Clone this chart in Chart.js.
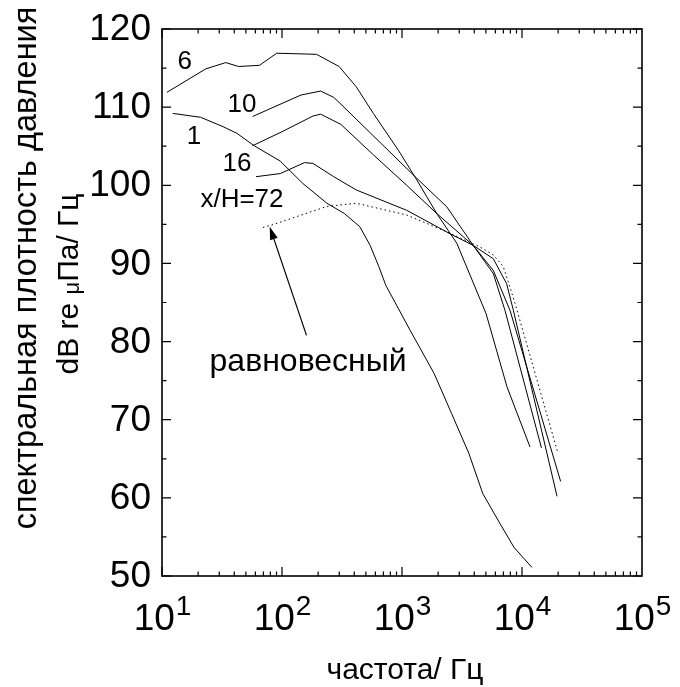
<!DOCTYPE html>
<html>
<head>
<meta charset="utf-8">
<script src="https://cdn.jsdelivr.net/npm/chart.js@4.4.1/dist/chart.umd.min.js"></script>
<style>
html, body { margin: 0; padding: 0; background: #fff; }
#wrap { width: 680px; height: 687px; }
</style>
</head>
<body>
<div id="wrap"><canvas id="grafico"></canvas></div>
<script>
// x/H = 1
const freq1 = [12.3, 21.0, 32.3, 42.1, 58.6, 96.6, 149, 237, 330, 445, 543, 641, 733, 1167, 1854, 2588, 3606, 4710, 6561, 8551, 10420, 12100];
const lev1 = [109.2, 108.7, 107.5, 106.65, 105.06, 103.1, 100.24, 97.7, 96.4, 94.7, 92.3, 89.6, 87.2, 81.46, 75.9, 70.8, 65.7, 60.55, 56.7, 53.7, 52.2, 51.1];
// x/H = 6
const freq6 = [11.0, 23.2, 34.0, 43.5, 64.9, 90.4, 194, 299, 416, 577, 931, 1327, 1945, 2858, 5012, 7499, 11670];
const lev6 = [111.9, 114.9, 115.7, 115.2, 115.35, 116.9, 116.76, 115.2, 112.6, 109.2, 104.5, 100.7, 96.4, 92.6, 83.6, 74.2, 66.5];
// x/H = 10
const freq10 = [56.8, 144, 210, 270, 304, 1327, 2360, 3926, 5768, 7211, 14520];
const lev10 = [108.8, 111.55, 112.06, 111.25, 110.5, 100.9, 97.25, 92.3, 88.7, 84.0, 66.4];
// x/H = 16
const freq16 = [56.8, 99.8, 181, 210, 309, 577, 1094, 1945, 3926, 5768, 7943, 20990];
const lev16 = [105.06, 106.85, 108.86, 109.1, 107.8, 103.9, 100.0, 96.4, 92.3, 89.1, 84.0, 62.1];
// x/H = 72
const freq72 = [60.7, 96.6, 154, 181, 270, 416, 1094, 2512, 3926, 5768, 7447, 8472, 19590];
const lev72 = [101.1, 101.5, 102.9, 102.8, 101.1, 99.4, 96.8, 93.8, 92.3, 90.6, 87.4, 84.0, 60.2];
// равновесный (пунктир)
const freqEq = [69.3, 81.7, 237, 416, 1094, 2360, 4467, 5768, 6982, 8750, 19950];
const levEq = [94.6, 94.9, 97.3, 97.7, 96.2, 94.05, 92.1, 91.1, 89.6, 84.9, 65.7];

const xTicks = [10, 100, 1000, 10000, 100000];
const xExp = ['1', '2', '3', '4', '5'];
const yTicks = [50, 60, 70, 80, 90, 100, 110, 120];

const curveLabels = ['6', '10', '1', '16', 'x/H=72'];
const curveLabelF = [15.5, 46.4, 18.5, 42.2, 46.4];
const curveLabelV = [115.8, 110.3, 106.2, 102.7, 98.2];

const eqLabel = 'равновесный';
const eqLabelF = 165, eqLabelV = 77.4;
const arrowFrom = [160, 80.8];
const arrowTo = [79, 94.7];

const FONT = '"Liberation Sans", Arial, sans-serif';

function pts(fs, vs) {
    return fs.map((f, i) => ({ x: f, y: vs[i] }));
}

function serie(fs, vs, dash) {
    return {
        data: pts(fs, vs),
        showLine: true,
        borderColor: '#000',
        borderWidth: 1,
        borderDash: dash || [],
        pointRadius: 0,
        tension: 0,
        fill: false
    };
}

function texto(ctx, s, x, y, size, align) {
    ctx.font = size + 'px ' + FONT;
    ctx.textAlign = align || 'center';
    ctx.fillText(s, x, y);
}

const moldura = {
    id: 'moldura',
    afterDraw(chart) {
        const ctx = chart.ctx;
        const a = chart.chartArea;
        const xs = chart.scales.x, ys = chart.scales.y;
        ctx.save();
        ctx.strokeStyle = '#000';
        ctx.fillStyle = '#000';
        ctx.lineWidth = 1.6;
        ctx.strokeRect(a.left, a.top, a.right - a.left, a.bottom - a.top);

        // x ticks (major + minor), inside on bottom and top
        ctx.lineWidth = 1.2;
        ctx.beginPath();
        for (let d = 10; d < 100000; d *= 10) {
            for (let m = 1; m < 10; m++) {
                const px = xs.getPixelForValue(d * m);
                const len = m === 1 ? 9 : 4.5;
                ctx.moveTo(px, a.bottom); ctx.lineTo(px, a.bottom - len);
                ctx.moveTo(px, a.top); ctx.lineTo(px, a.top + len);
            }
        }
        // y ticks
        for (let v = 50; v <= 120; v += 5) {
            const py = ys.getPixelForValue(v);
            const len = v % 10 === 0 ? 9 : 4.5;
            ctx.moveTo(a.left, py); ctx.lineTo(a.left + len, py);
            ctx.moveTo(a.right, py); ctx.lineTo(a.right - len, py);
        }
        ctx.stroke();

        // y tick labels
        ctx.textBaseline = 'middle';
        yTicks.forEach(v => {
            texto(ctx, String(v), a.left - 11, ys.getPixelForValue(v) + 1, 37, 'right');
        });

        // x tick labels 10^n
        ctx.textBaseline = 'alphabetic';
        xTicks.forEach((t, i) => {
            const px = xs.getPixelForValue(t);
            ctx.font = '37px ' + FONT;
            const w1 = ctx.measureText('10').width;
            ctx.font = '28px ' + FONT;
            const w2 = ctx.measureText(xExp[i]).width;
            const x0 = px - (w1 + w2) / 2;
            texto(ctx, '10', x0, a.bottom + 54, 37, 'left');
            texto(ctx, xExp[i], x0 + w1 + 1, a.bottom + 39, 28, 'left');
        });

        // x axis title
        texto(ctx, 'частота/ Гц', (a.left + a.right) / 2 + 3, 679, 30, 'center');

        // y axis title, two lines
        ctx.save();
        ctx.translate(27, 268);
        ctx.rotate(-Math.PI / 2);
        ctx.font = '32.5px ' + FONT;
        ctx.textAlign = 'center';
        ctx.textBaseline = 'middle';
        ctx.fillText('спектральная плотность давления', 0, 0);
        ctx.restore();

        ctx.save();
        ctx.translate(70, 284);
        ctx.rotate(-Math.PI / 2);
        ctx.textBaseline = 'middle';
        ctx.font = '30px ' + FONT;
        const p1 = 'dB re ', p3 = 'Па/ Гц';
        const w1 = ctx.measureText(p1).width;
        const w3 = ctx.measureText(p3).width;
        ctx.font = '22px ' + FONT;
        const w2 = ctx.measureText('μ').width;
        let x = -(w1 + w2 + w3) / 2;
        ctx.textAlign = 'left';
        ctx.font = '30px ' + FONT;
        ctx.fillText(p1, x, 0);
        ctx.font = '22px ' + FONT;
        ctx.fillText('μ', x + w1, 3);
        ctx.font = '30px ' + FONT;
        ctx.fillText(p3, x + w1 + w2, 0);
        ctx.restore();

        // curve labels
        ctx.textBaseline = 'middle';
        curveLabels.forEach((s, i) => {
            texto(ctx, s, xs.getPixelForValue(curveLabelF[i]), ys.getPixelForValue(curveLabelV[i]), 26, 'center');
        });
        texto(ctx, eqLabel, xs.getPixelForValue(eqLabelF), ys.getPixelForValue(eqLabelV), 32, 'center');

        // arrow
        const ax0 = xs.getPixelForValue(arrowFrom[0]), ay0 = ys.getPixelForValue(arrowFrom[1]);
        const ax1 = xs.getPixelForValue(arrowTo[0]), ay1 = ys.getPixelForValue(arrowTo[1]);
        const ang = Math.atan2(ay1 - ay0, ax1 - ax0);
        ctx.lineWidth = 1.2;
        ctx.beginPath();
        ctx.moveTo(ax0, ay0);
        ctx.lineTo(ax1 - 10 * Math.cos(ang), ay1 - 10 * Math.sin(ang));
        ctx.stroke();
        ctx.beginPath();
        ctx.moveTo(ax1, ay1);
        ctx.lineTo(ax1 - 13 * Math.cos(ang) + 4 * Math.sin(ang), ay1 - 13 * Math.sin(ang) - 4 * Math.cos(ang));
        ctx.lineTo(ax1 - 13 * Math.cos(ang) - 4 * Math.sin(ang), ay1 - 13 * Math.sin(ang) + 4 * Math.cos(ang));
        ctx.closePath();
        ctx.fill();
        ctx.restore();
    }
};

const ctx = document.getElementById('grafico').getContext('2d');
new Chart(ctx, {
    type: 'scatter',
    data: {
        datasets: [
            serie(freq1, lev1),
            serie(freq6, lev6),
            serie(freq10, lev10),
            serie(freq16, lev16),
            serie(freq72, lev72),
            serie(freqEq, levEq, [1.5, 3])
        ]
    },
    options: {
        responsive: true,
        maintainAspectRatio: false,
        animation: false,
        layout: {
            padding: { left: 162, right: 38, top: 29, bottom: 111 }
        },
        scales: {
            x: { type: 'logarithmic', min: 10, max: 100000, display: false },
            y: { type: 'linear', min: 50, max: 120, display: false }
        },
        plugins: {
            legend: { display: false },
            tooltip: { enabled: false }
        }
    },
    plugins: [moldura]
});
</script>
</body>
</html>
